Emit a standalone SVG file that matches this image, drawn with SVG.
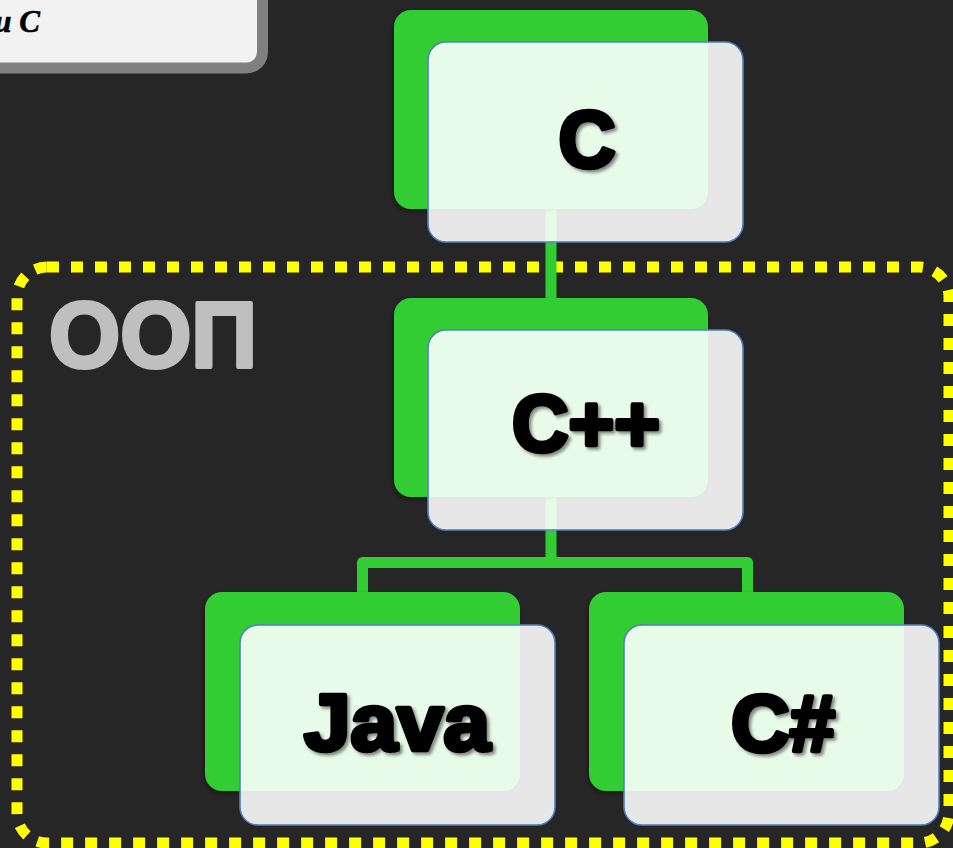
<svg xmlns="http://www.w3.org/2000/svg" width="953" height="848" viewBox="0 0 953 848">
<defs>
<filter id="ts" x="-20%" y="-20%" width="140%" height="140%">
<feDropShadow dx="2.5" dy="2.5" stdDeviation="1.5" flood-color="#000" flood-opacity="0.45"/>
</filter>
<filter id="gs" x="-10%" y="-10%" width="120%" height="125%">
<feDropShadow dx="-1" dy="2" stdDeviation="2" flood-color="#000" flood-opacity="0.4"/>
</filter>
</defs>
<style>
.green{fill:#32cd32;filter:url(#gs)}
.card{fill:#ffffff;fill-opacity:0.89;stroke:#4f81bd;stroke-width:1.6}
.lbl{font-family:"Liberation Sans","Arial",sans-serif;font-weight:bold;font-size:79px;fill:#000;stroke:#000;stroke-width:4.5;stroke-linejoin:round;text-anchor:middle;filter:url(#ts)}
.conn{fill:none;stroke:#32cd32;stroke-width:11;stroke-linejoin:round}
</style>
<rect width="953" height="848" fill="#262626"/>
<g id="note">
<rect x="-30" y="-40" width="292.5" height="108" rx="16" fill="#f2f2f2" stroke="#808080" stroke-width="11"/>
<text x="40" y="32" font-family="Liberation Serif, serif" font-weight="bold" font-style="italic" font-size="31" fill="#000" stroke="#000" stroke-width="0.6" text-anchor="end">и C</text>
</g>
<g id="oop-group">
<rect x="17" y="267" width="932" height="576" rx="30" fill="none" stroke="#ffff00" stroke-width="11" stroke-dasharray="12 12"/>
<text x="49" y="367" font-family="Liberation Sans, sans-serif" font-weight="bold" font-size="92" fill="#bfbfbf" stroke="#bfbfbf" stroke-width="4" stroke-linejoin="round" textLength="208" lengthAdjust="spacingAndGlyphs">ООП</text>
</g>
<g id="connectors">
<path class="conn" d="M551 205 V300"/>
<path class="conn" d="M551 495 V562.5"/>
<path class="conn" d="M362.5 595 V562.5 H747.5 V595"/>
</g>
<g id="node-c">
<rect class="green" x="394" y="10" width="314" height="199" rx="17"/>
<rect class="card" x="428" y="42" width="315" height="200" rx="18"/>
<text class="lbl" x="587" y="167">C</text>
</g>
<g id="node-cpp">
<rect class="green" x="394" y="298" width="314" height="199" rx="17"/>
<rect class="card" x="428" y="330" width="315" height="200" rx="18"/>
<text class="lbl" x="586" y="451" textLength="148" lengthAdjust="spacingAndGlyphs">C++</text>
</g>
<g id="node-java">
<rect class="green" x="205" y="592" width="315" height="199" rx="17"/>
<rect class="card" x="240" y="625" width="315" height="200" rx="18"/>
<text class="lbl" x="397" y="750" textLength="186" lengthAdjust="spacingAndGlyphs">Java</text>
</g>
<g id="node-csharp">
<rect class="green" x="589" y="592" width="315" height="199" rx="17"/>
<rect class="card" x="624" y="625" width="315" height="200" rx="18"/>
<text class="lbl" x="783" y="751" textLength="104" lengthAdjust="spacingAndGlyphs">C#</text>
</g>
</svg>
